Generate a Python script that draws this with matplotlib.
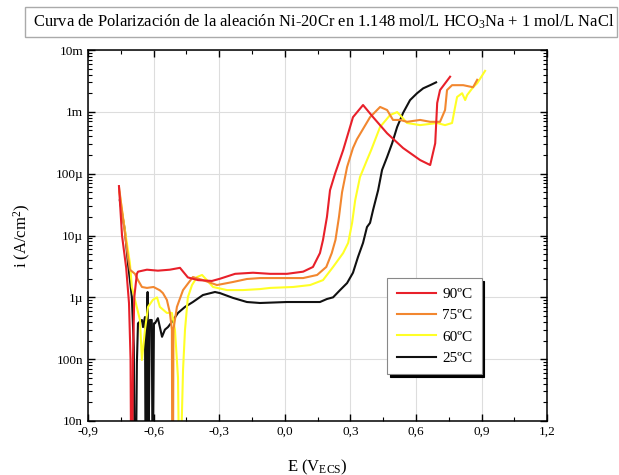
import numpy as np
import matplotlib
matplotlib.use('Agg')
import matplotlib.pyplot as plt
import matplotlib.ticker as mticker
from matplotlib.patches import Rectangle

plt.rcParams['font.family'] = ['Liberation Serif', 'DejaVu Serif']
plt.rcParams['mathtext.fontset'] = 'custom'
plt.rcParams['mathtext.rm'] = 'Liberation Serif'
plt.rcParams['mathtext.it'] = 'Liberation Serif:italic'

# --- data (E in V vs ECS, i in A/cm2) ---
e_90 = [-0.758, -0.744, -0.725, -0.712, -0.705, -0.702, -0.698, -0.694, -0.688, -0.676,
        -0.671, -0.630, -0.580, -0.525, -0.479, -0.443, -0.397, -0.333, -0.296, -0.227,
        -0.145, -0.067, 0.010, 0.084, 0.129, 0.161, 0.175, 0.193, 0.207, 0.230,
        0.267, 0.312, 0.358, 0.404, 0.468, 0.541, 0.619, 0.665, 0.688, 0.697, 0.710, 0.756]
i_90 = [6.3e-5, 1.0e-5, 3.0e-6, 8.0e-7, 1.0e-7, 1e-9, 1e-9, 1.0e-7, 1.0e-6, 2.4e-6,
        2.6e-6, 2.8e-6, 2.7e-6, 2.8e-6, 3.0e-6, 2.1e-6, 1.9e-6, 1.84e-6, 2.0e-6, 2.4e-6,
        2.5e-6, 2.4e-6, 2.4e-6, 2.6e-6, 3.1e-6, 5.2e-6, 8.5e-6, 2.0e-5, 5.4e-5, 1.0e-4,
        2.4e-4, 8.2e-4, 1.29e-3, 8.2e-4, 4.5e-4, 2.6e-4, 1.66e-4, 1.38e-4, 3.1e-4, 1.39e-3, 2.25e-3, 3.7e-3]

e_75 = [-0.757, -0.717, -0.708, -0.685, -0.671, -0.653, -0.630, -0.600, -0.571, -0.557,
        -0.539, -0.525, -0.516, -0.514, -0.511, -0.509, -0.493, -0.465, -0.420, -0.374,
        -0.310, -0.237, -0.173, -0.113, -0.022, 0.084, 0.148, 0.190, 0.215, 0.232,
        0.248, 0.262, 0.285, 0.312, 0.330, 0.390, 0.436, 0.468, 0.495, 0.527, 0.559,
        0.619, 0.665, 0.710, 0.733, 0.742, 0.765, 0.816, 0.861, 0.880]
i_75 = [5.8e-5, 4.5e-6, 2.8e-6, 2.4e-6, 1.9e-6, 1.47e-6, 1.42e-6, 1.47e-6, 1.3e-6, 1.17e-6,
        9.1e-7, 5.6e-7, 3.0e-7, 1e-9, 1e-9, 3.0e-7, 7.0e-7, 1.31e-6, 2.13e-6, 1.9e-6,
        1.58e-6, 1.77e-6, 1.98e-6, 2.05e-6, 2.05e-6, 2.05e-6, 2.3e-6, 3.1e-6, 5.2e-6, 8.5e-6,
        2.0e-5, 5.0e-5, 1.28e-4, 2.6e-4, 3.6e-4, 8.2e-4, 1.2e-3, 1.07e-3, 7.4e-4, 7.4e-4, 6.9e-4,
        7.4e-4, 6.9e-4, 6.9e-4, 1.07e-3, 2.25e-3, 2.7e-3, 2.7e-3, 2.5e-3, 3.3e-3]

e_60 = [-0.756, -0.731, -0.708, -0.699, -0.662, -0.653, -0.639, -0.625, -0.603, -0.584,
        -0.571, -0.539, -0.516, -0.502, -0.488, -0.482, -0.478, -0.465, -0.456, -0.443,
        -0.424, -0.401, -0.378, -0.356, -0.328, -0.264, -0.191, -0.113, -0.067, 0.038,
        0.116, 0.175, 0.221, 0.267, 0.290, 0.308, 0.322, 0.344, 0.376, 0.395, 0.436,
        0.482, 0.514, 0.527, 0.559, 0.619, 0.697, 0.733, 0.765, 0.779, 0.788, 0.811,
        0.825, 0.834, 0.861, 0.880, 0.916]
i_60 = [5.0e-5, 1.23e-5, 3.6e-6, 1.47e-6, 4.3e-7, 9.7e-8, 3.0e-7, 7.0e-7, 9.1e-7, 1.0e-6,
        7.0e-7, 5.6e-7, 5.6e-7, 3.0e-7, 5.0e-8, 1e-9, 1e-9, 6.7e-8, 3.0e-7, 1.0e-6,
        1.58e-6, 2.13e-6, 2.3e-6, 1.9e-6, 1.47e-6, 1.31e-6, 1.31e-6, 1.36e-6, 1.42e-6, 1.47e-6,
        1.58e-6, 1.9e-6, 3.1e-6, 5.2e-6, 7.6e-6, 1.6e-5, 3.7e-5, 8.8e-5, 1.66e-4, 2.4e-4, 5.7e-4,
        8.9e-4, 9.9e-4, 8.9e-4, 6.6e-4, 6.1e-4, 6.6e-4, 6.1e-4, 6.6e-4, 1.2e-3, 1.74e-3, 2.0e-3,
        1.55e-3, 1.87e-3, 2.5e-3, 2.9e-3, 4.6e-3]

e_25 = [-0.754, -0.731, -0.717, -0.699, -0.690, -0.686, -0.681, -0.676, -0.671, -0.653,
        -0.648, -0.639, -0.636, -0.631, -0.627, -0.624, -0.617, -0.608, -0.604, -0.598,
        -0.593, -0.580, -0.561, -0.548, -0.534, -0.516, -0.488, -0.456, -0.420, -0.374,
        -0.319, -0.296, -0.237, -0.173, -0.113, 0.010, 0.161, 0.193, 0.221, 0.253,
        0.285, 0.312, 0.335, 0.358, 0.376, 0.390, 0.404, 0.427, 0.445, 0.468, 0.491,
        0.514, 0.541, 0.573, 0.605, 0.633, 0.665, 0.692]
i_25 = [3.7e-5, 1.23e-5, 3.6e-6, 1.0e-6, 1.57e-7, 1e-9, 1e-9, 8.7e-8, 3.8e-7, 4.3e-7,
        3.3e-7, 4.8e-7, 1e-9, 3.0e-7, 1.22e-6, 1e-9, 4.3e-7, 4.3e-7, 1e-9, 3.8e-7,
        3.8e-7, 4.6e-7, 2.3e-7, 3.0e-7, 3.3e-7, 4.0e-7, 5.6e-7, 7.0e-7, 8.4e-7, 1.09e-6,
        1.22e-6, 1.17e-6, 9.8e-7, 8.4e-7, 8.1e-7, 8.4e-7, 8.4e-7, 9.4e-7, 1.0e-6, 1.31e-6,
        1.7e-6, 2.5e-6, 4.5e-6, 7.6e-6, 1.37e-5, 1.6e-5, 2.6e-5, 5.4e-5, 1.15e-4, 1.86e-4, 3.1e-4,
        5.7e-4, 9.6e-4, 1.55e-3, 2.0e-3, 2.4e-3, 2.7e-3, 3.0e-3]

series_labels = ['90ºC', '75ºC', '60ºC', '25ºC']
series_colors = ['#e8202a', '#f2872f', '#ffff26', '#111111']

xticks = [-0.9, -0.6, -0.3, 0.0, 0.3, 0.6, 0.9, 1.2]
xtick_labels = ['-0,9', '-0,6', '-0,3', '0,0', '0,3', '0,6', '0,9', '1,2']
yticks = [1e-8, 1e-7, 1e-6, 1e-5, 1e-4, 1e-3, 1e-2]
ytick_labels = ['10n', '100n', '1µ', '10µ', '100µ', '1m', '10m']

fig = plt.figure(figsize=(6.19, 4.75), dpi=100)
ax = fig.add_axes([0.142, 0.1137, 0.742, 0.781])

curves = [(e_90, i_90), (e_75, i_75), (e_60, i_60), (e_25, i_25)]
# draw black first so the coloured curves sit on top like the original
for k in [3, 2, 1, 0]:
    e, i = curves[k]
    ax.plot(e, i, color=series_colors[k], lw=1.5, label=series_labels[k])

ax.set_yscale('log')
ax.set_xlim(-0.9, 1.2)
ax.set_ylim(1e-8, 1e-2)
ax.set_xticks(xticks)
ax.set_xticklabels(xtick_labels)
ax.xaxis.set_minor_locator(mticker.MultipleLocator(0.15))
ax.set_yticks(yticks)
ax.set_yticklabels(ytick_labels)
ax.yaxis.set_minor_locator(mticker.LogLocator(base=10, subs=np.arange(2, 10)))
ax.yaxis.set_minor_formatter(mticker.NullFormatter())
ax.tick_params(which='both', direction='in', top=True, right=True, labelsize=9.5)
ax.tick_params(which='major', length=5, width=1)
ax.tick_params(which='minor', length=3, width=0.8)
ax.grid(True, which='major', color='#dddddd', lw=0.8)
ax.set_axisbelow(True)
for s in ax.spines.values():
    s.set_linewidth(1.1)

ax.set_xlabel('E (V$_{\\mathrm{ECS}}$)', fontsize=12, labelpad=14)
ax.set_ylabel('i (A/cm$^2$)', fontsize=12, labelpad=16)

handles, labels = ax.get_legend_handles_labels()
order = [labels.index(l) for l in series_labels]
leg = ax.legend([handles[j] for j in order], series_labels, loc='upper left',
                bbox_to_anchor=(0.652, 0.385), fontsize=11, frameon=True, fancybox=False,
                shadow={'color': 'black', 'alpha': 1.0}, edgecolor='#888888',
                handlelength=2.6, borderpad=0.6, labelspacing=0.5, handletextpad=0.4,
                borderaxespad=0.0)
leg.get_frame().set_linewidth(0.8)

# title box above the plot
fig.patches.append(Rectangle((0.040, 0.922), 0.957, 0.064, transform=fig.transFigure,
                             fc='white', ec='#aaaaaa', lw=1.0))
fig.text(0.053, 0.954, 'Curva de Polarización de la aleación Ni-20Cr en 1.148 mol/L HCO$_3$Na + 1 mol/L NaCl',
         fontsize=11.9, va='center', ha='left')

fig.savefig('out.png', dpi=100)
